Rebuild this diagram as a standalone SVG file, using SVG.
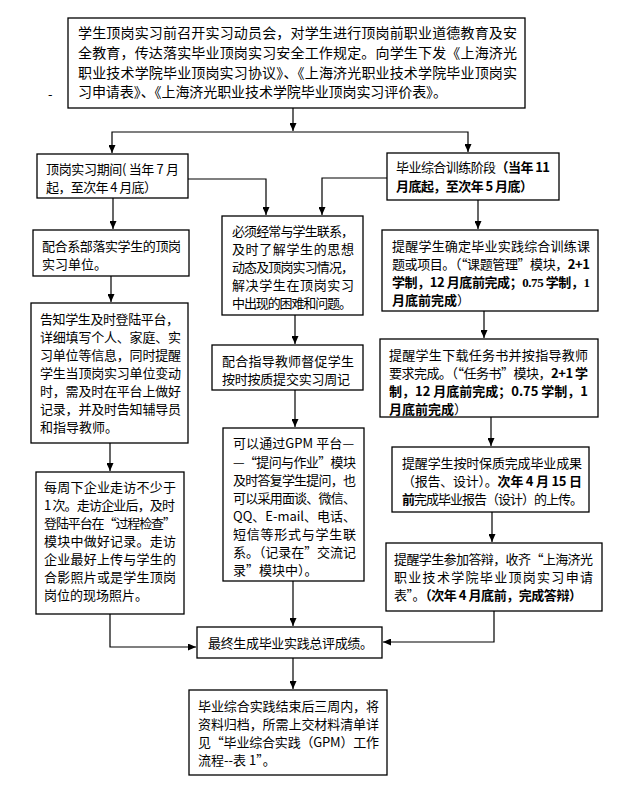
<svg xmlns="http://www.w3.org/2000/svg" width="631" height="797" viewBox="0 0 631 797">
<style>
.b{fill:#fff;stroke:#000;stroke-width:1.3}
.t{font-family:"Noto Sans CJK SC","Noto Sans",sans-serif;font-size:13px;fill:#000}
.tt{font-size:14px}
.bd{font-weight:bold}
.sf{font-family:"Liberation Serif",serif}
.c{fill:none;stroke:#000;stroke-width:1.2}
</style>
<defs>
<marker id="ah" markerWidth="8" markerHeight="7" refX="8" refY="3.5" orient="auto" markerUnits="userSpaceOnUse">
<path d="M0,0 L8,3.5 L0,7 Z" fill="#000"/>
</marker>
</defs>
<rect width="631" height="797" fill="#fff"/>
<text class="t" x="48" y="99">-</text>

<g id="connectors">
<path class="c" d="M293,108 V131" marker-end="url(#ah)"/>
<path class="c" d="M293,132 H112 V153" marker-end="url(#ah)"/>
<path class="c" d="M293,132 H468 V152" marker-end="url(#ah)"/>
<path class="c" d="M113,198 V229" marker-end="url(#ah)"/>
<path class="c" d="M188,179 H266 V215" marker-end="url(#ah)"/>
<path class="c" d="M387,178 H322 V215" marker-end="url(#ah)"/>
<path class="c" d="M478,200 V229" marker-end="url(#ah)"/>
<path class="c" d="M111,276 V302" marker-end="url(#ah)"/>
<path class="c" d="M295,315 V344" marker-end="url(#ah)"/>
<path class="c" d="M484,311 V338" marker-end="url(#ah)"/>
<path class="c" d="M110,443 V471" marker-end="url(#ah)"/>
<path class="c" d="M295,390 V427" marker-end="url(#ah)"/>
<path class="c" d="M491,417 V446" marker-end="url(#ah)"/>
<path class="c" d="M492,512 V542" marker-end="url(#ah)"/>
<path class="c" d="M110,614 V647 H196" marker-end="url(#ah)"/>
<path class="c" d="M293,581 V626" marker-end="url(#ah)"/>
<path class="c" d="M494,611 V642 H383" marker-end="url(#ah)"/>
<path class="c" d="M293,658 V689" marker-end="url(#ah)"/>
</g>

<g id="n-top">
<rect class="b" x="68" y="18" width="457" height="90"/>
<text class="t tt" x="78" y="38" textLength="439" lengthAdjust="spacing">学生顶岗实习前召开实习动员会，对学生进行顶岗前职业道德教育及安</text>
<text class="t tt" x="78" y="58" textLength="439" lengthAdjust="spacing">全教育，传达落实毕业顶岗实习安全工作规定。向学生下发《上海济光</text>
<text class="t tt" x="78" y="78" textLength="439" lengthAdjust="spacing">职业技术学院毕业顶岗实习协议》、《上海济光职业技术学院毕业顶岗实</text>
<text class="t tt" x="78" y="97" textLength="369" lengthAdjust="spacing">习申请表》、《上海济光职业技术学院毕业顶岗实习评价表》。</text>
</g>

<g id="n-a1">
<rect class="b" x="37" y="154" width="151" height="44"/>
<text class="t" x="46" y="174" textLength="133" lengthAdjust="spacing">顶岗实习期间( 当年 7 月</text>
<text class="t" x="46" y="192" textLength="111" lengthAdjust="spacing">起，至次年 4 月底）</text>
</g>

<g id="n-a2">
<rect class="b" x="33" y="230" width="156" height="46"/>
<text class="t" x="42" y="251" textLength="139" lengthAdjust="spacing">配合系部落实学生的顶岗</text>
<text class="t" x="42" y="269">实习单位。</text>
</g>

<g id="n-a3">
<rect class="b" x="31" y="303" width="157" height="140"/>
<text class="t" x="40" y="324" textLength="139" lengthAdjust="spacing">告知学生及时登陆平台，</text>
<text class="t" x="40" y="342" textLength="141" lengthAdjust="spacing">详细填写个人、家庭、实</text>
<text class="t" x="40" y="360" textLength="141" lengthAdjust="spacing">习单位等信息，同时提醒</text>
<text class="t" x="40" y="378" textLength="141" lengthAdjust="spacing">学生当顶岗实习单位变动</text>
<text class="t" x="40" y="396" textLength="141" lengthAdjust="spacing">时，需及时在平台上做好</text>
<text class="t" x="40" y="414" textLength="141" lengthAdjust="spacing">记录，并及时告知辅导员</text>
<text class="t" x="40" y="432">和指导教师。</text>
</g>

<g id="n-a4">
<rect class="b" x="36" y="472" width="148" height="142"/>
<text class="t" x="44" y="492" textLength="132" lengthAdjust="spacing">每周下企业走访不少于</text>
<text class="t" x="44" y="510" textLength="131" lengthAdjust="spacing">1 次。走访企业后，及时</text>
<text class="t" x="44" y="528" textLength="132" lengthAdjust="spacing">登陆平台在“过程检查”</text>
<text class="t" x="44" y="546" textLength="132" lengthAdjust="spacing">模块中做好记录。走访</text>
<text class="t" x="44" y="564" textLength="132" lengthAdjust="spacing">企业最好上传与学生的</text>
<text class="t" x="44" y="582" textLength="132" lengthAdjust="spacing">合影照片或是学生顶岗</text>
<text class="t" x="44" y="600">岗位的现场照片。</text>
</g>

<g id="n-m1">
<rect class="b" x="222" y="216" width="141" height="99"/>
<text class="t" x="232" y="236" textLength="122" lengthAdjust="spacing">必须经常与学生联系，</text>
<text class="t" x="232" y="254" textLength="122" lengthAdjust="spacing">及时了解学生的思想</text>
<text class="t" x="232" y="272" textLength="122" lengthAdjust="spacing">动态及顶岗实习情况，</text>
<text class="t" x="232" y="290" textLength="122" lengthAdjust="spacing">解决学生在顶岗实习</text>
<text class="t" x="232" y="308" textLength="120" lengthAdjust="spacing">中出现的困难和问题。</text>
</g>

<g id="n-m2">
<rect class="b" x="212" y="345" width="151" height="45"/>
<text class="t" x="222" y="366" textLength="132" lengthAdjust="spacing">配合指导教师督促学生</text>
<text class="t" x="222" y="384" textLength="128" lengthAdjust="spacing">按时按质提交实习周记</text>
</g>

<g id="n-m3">
<rect class="b" x="223" y="428" width="141" height="153"/>
<text class="t" x="233" y="448" textLength="121" lengthAdjust="spacing">可以通过GPM 平台—</text>
<text class="t" x="233" y="467" textLength="123" lengthAdjust="spacing">—“提问与作业”模块</text>
<text class="t" x="233" y="485" textLength="123" lengthAdjust="spacing">及时答复学生提问，也</text>
<text class="t" x="233" y="503" textLength="123" lengthAdjust="spacing">可以采用面谈、微信、</text>
<text class="t" x="233" y="521" textLength="123" lengthAdjust="spacing">QQ、E-mail、电话、</text>
<text class="t" x="233" y="539" textLength="123" lengthAdjust="spacing">短信等形式与学生联</text>
<text class="t" x="233" y="557" textLength="123" lengthAdjust="spacing">系。（记录在”交流记</text>
<text class="t" x="233" y="575">录”模块中）。</text>
</g>

<g id="n-r1">
<rect class="b" x="387" y="153" width="172" height="47"/>
<text class="t" x="396" y="172" textLength="154" lengthAdjust="spacing">毕业综合训练阶段<tspan class="bd">（当年 11</tspan></text>
<text class="t bd" x="396" y="191" textLength="137" lengthAdjust="spacing">月底起，至次年 5 月底）</text>
</g>

<g id="n-r2">
<rect class="b" x="382" y="230" width="216" height="81"/>
<text class="t" x="392" y="251" textLength="198" lengthAdjust="spacing">提醒学生确定毕业实践综合训练课</text>
<text class="t" x="392" y="269" textLength="198" lengthAdjust="spacing">题或项目。（“课题管理”模块，<tspan class="bd">2+1</tspan></text>
<text class="t bd" x="392" y="287" textLength="198" lengthAdjust="spacing">学制，12 月底前完成；<tspan class="sf">0.75</tspan> 学制，<tspan class="sf">1</tspan></text>
<text class="t" x="392" y="305"><tspan class="bd">月底前完成</tspan>）</text>
</g>

<g id="n-r3">
<rect class="b" x="380" y="339" width="218" height="78"/>
<text class="t" x="389" y="360" textLength="199" lengthAdjust="spacing">提醒学生下载任务书并按指导教师</text>
<text class="t" x="389" y="378" textLength="199" lengthAdjust="spacing">要求完成。（“任务书”模块，<tspan class="bd">2+1 学</tspan></text>
<text class="t bd" x="389" y="396" textLength="199" lengthAdjust="spacing">制，12  月底前完成；0.75  学制，1</text>
<text class="t" x="389" y="414"><tspan class="bd">月底前完成</tspan>）</text>
</g>

<g id="n-r4">
<rect class="b" x="392" y="447" width="197" height="65"/>
<text class="t" x="402" y="468" textLength="180" lengthAdjust="spacing">提醒学生按时保质完成毕业成果</text>
<text class="t" x="402" y="486" textLength="180" lengthAdjust="spacing">（报告、设计）。<tspan class="bd">次年 4 月 15 日</tspan></text>
<text class="t" x="402" y="504" textLength="181" lengthAdjust="spacing"><tspan class="bd">前</tspan>完成毕业报告（设计）的上传。</text>
</g>

<g id="n-r5">
<rect class="b" x="386" y="543" width="216" height="68"/>
<text class="t" x="394" y="564" textLength="199" lengthAdjust="spacing">提醒学生参加答辩，收齐“上海济光</text>
<text class="t" x="394" y="582" textLength="199" lengthAdjust="spacing">职业技术学院毕业顶岗实习申请</text>
<text class="t" x="394" y="600" textLength="188" lengthAdjust="spacing">表”。<tspan class="bd">（次年 4 月底前，完成答辩）</tspan></text>
</g>

<g id="n-final">
<rect class="b" x="197" y="627" width="185" height="31"/>
<text class="t" x="208" y="648" textLength="165" lengthAdjust="spacing">最终生成毕业实践总评成绩。</text>
</g>

<g id="n-last">
<rect class="b" x="189" y="690" width="198" height="85"/>
<text class="t" x="198" y="711" textLength="181" lengthAdjust="spacing">毕业综合实践结束后三周内，将</text>
<text class="t" x="198" y="729" textLength="181" lengthAdjust="spacing">资料归档，所需上交材料清单详</text>
<text class="t" x="198" y="747" textLength="181" lengthAdjust="spacing">见“毕业综合实践（GPM）工作</text>
<text class="t" x="198" y="765">流程--表 1”。</text>
</g>
</svg>
